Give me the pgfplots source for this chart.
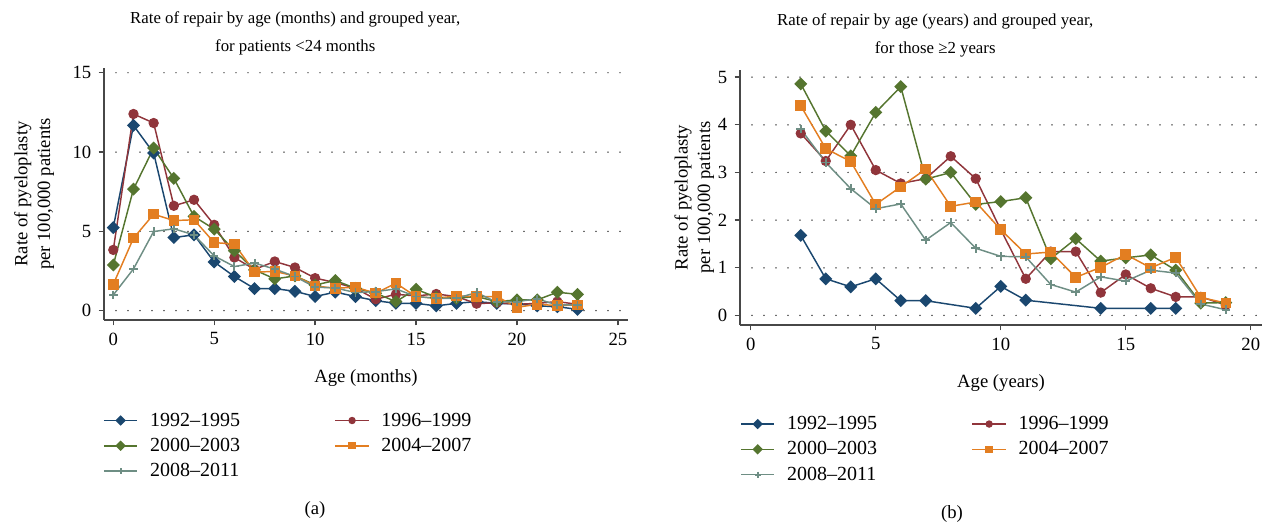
\documentclass[border=0pt]{standalone}
\usepackage{fontspec}
\setmainfont{Liberation Serif}
\usepackage{pgfplots}
\pgfplotsset{compat=1.18}
\definecolor{cnavy}{RGB}{26,71,111}
\definecolor{cmaroon}{RGB}{144,53,59}
\definecolor{cgreen}{RGB}{85,117,47}
\definecolor{corange}{RGB}{227,126,33}
\definecolor{cteal}{RGB}{110,142,132}
\pgfplotsset{
  stata/.style={
    scale only axis,
    axis x line*=bottom, axis y line*=left,
    axis line style={draw=black!72, line width=1.3pt},
    tick align=outside, major tick length=4pt,
    tick style={black!72, line width=1pt},
    ymajorgrids,
    major grid style={black, line width=1.1pt, line cap=round, dash pattern=on 0pt off 9pt},
    /pgf/number format/assume math mode=true,
    tick label style={font=\fontsize{14}{16}\selectfont},
    xticklabel style={yshift=-2pt},
    yticklabel style={xshift=-2pt},
    label style={font=\fontsize{14}{17}\selectfont},
    xlabel style={yshift=-11pt},
    ylabel style={align=center},
    title style={font=\fontsize{12.6}{20.5}\selectfont, align=center, anchor=center},
    legend columns=2,
    legend cell align=left,
    legend style={draw=none, fill=none, inner sep=0pt, anchor=north west,
      font=\fontsize{15}{17}\selectfont, row sep=3.5pt,
      /tikz/column 1/.style={column sep=7pt},
      /tikz/column 2/.style={column sep=69pt},
      /tikz/column 3/.style={column sep=7pt}},
    every axis plot/.append style={line width=1.1pt,
      legend image code/.code={\draw[mark repeat=2,mark phase=2,##1, mark size=2.2pt] plot coordinates {(0pt,0pt) (12.5pt,0pt) (25pt,0pt)};}},
  },
  sA/.style={color=cnavy, mark=square*, mark size=2.9pt, mark options={rotate=45, solid}},
  sB/.style={color=cmaroon, mark=*, mark size=3.3pt},
  sC/.style={color=cgreen, mark=square*, mark size=2.9pt, mark options={rotate=45, solid}},
  sD/.style={color=corange, mark=square*, mark size=3.4pt},
  sE/.style={color=cteal, mark=+, mark size=3.2pt, mark options={line width=1.4pt}},
}
\begin{document}
\begin{tikzpicture}
\useasboundingbox (0,0) rectangle (952.5pt,396.75pt);
% ---------- (a) ----------
\begin{axis}[stata,
  at={(78pt,156.75pt)}, anchor=south west,
  width=393pt, height=189pt,
  xmin=-0.46, xmax=25.5, ymin=-0.59, ymax=15.3,
  xtick={0,5,...,25}, ytick={0,5,10,15},
  xlabel={Age (months)},
  ylabel={Rate of pyeloplasty\\per 100,000 patients},
  ylabel shift=7pt,
  title={Rate of repair by age (months) and grouped year,\\for patients <24 months},
  title style={at={(0.365,1.106)}},
  legend style={at={(-0.002,-0.357)}},
]
\addplot[sA] coordinates {(0,5.24)(1,11.68)(2,9.94)(3,4.61)(4,4.78)(5,3.07)(6,2.15)(7,1.39)(8,1.39)(9,1.22)(10,0.89)(11,1.17)(12,0.89)(13,0.63)(14,0.46)(15,0.46)(16,0.30)(17,0.46)(18,0.57)(19,0.46)(20,0.42)(21,0.30)(22,0.25)(23,0.08)};
\addlegendentry{1992--1995}
\addplot[sB] coordinates {(0,3.83)(1,12.4)(2,11.83)(3,6.61)(4,6.99)(5,5.41)(6,3.35)(7,2.6)(8,3.10)(9,2.72)(10,2.05)(11,1.77)(12,1.41)(13,0.72)(14,1.03)(15,0.93)(16,1.05)(17,0.89)(18,0.44)(19,0.5)(20,0.4)(21,0.46)(22,0.57)(23,0.4)};
\addlegendentry{1996--1999}
\addplot[sC] coordinates {(0,2.88)(1,7.66)(2,10.25)(3,8.34)(4,5.94)(5,5.14)(6,3.78)(7,2.57)(8,2.0)(9,2.19)(10,1.62)(11,1.9)(12,1.41)(13,1.1)(14,0.57)(15,1.35)(16,0.84)(17,0.78)(18,0.89)(19,0.57)(20,0.68)(21,0.68)(22,1.16)(23,1.03)};
\addlegendentry{2000--2003}
\addplot[sD] coordinates {(0,1.66)(1,4.57)(2,6.08)(3,5.68)(4,5.73)(5,4.29)(6,4.2)(7,2.43)(8,2.47)(9,2.19)(10,1.56)(11,1.41)(12,1.48)(13,1.1)(14,1.73)(15,0.89)(16,0.78)(17,0.93)(18,0.89)(19,0.89)(20,0.21)(21,0.4)(22,0.32)(23,0.36)};
\addlegendentry{2004--2007}
\addplot[sE] coordinates {(0,0.99)(1,2.63)(2,4.99)(3,5.16)(4,4.78)(5,3.45)(6,2.78)(7,3.0)(8,2.62)(9,2.15)(10,1.48)(11,1.43)(12,1.14)(13,1.2)(14,1.37)(15,0.89)(16,0.78)(17,0.78)(18,1.14)(19,0.53)(20,0.57)(21,0.74)(22,0.36)(23,0.36)};
\addlegendentry{2008--2011}
\end{axis}
% ---------- (b) ----------
\begin{axis}[stata,
  at={(555pt,153pt)}, anchor=south west,
  width=391.5pt, height=191.25pt,
  xmin=-0.43, xmax=20.45, ymin=-0.2, ymax=5.15,
  xtick={0,5,...,20}, ytick={0,1,...,5},
  xlabel={Age (years)},
  ylabel={Rate of pyeloplasty\\per 100,000 patients},
  ylabel shift=-4pt,
  title={Rate of repair by age (years) and grouped year,\\for those ≥2 years},
  title style={at={(0.374,1.104)}},
  legend style={at={(0.0,-0.347)}},
]
\addplot[sA] coordinates {(2,1.68)(3,0.77)(4,0.60)(5,0.77)(6,0.31)(7,0.31)(9,0.15)(10,0.61)(11,0.32)(14,0.15)(16,0.15)(17,0.15)};
\addlegendentry{1992--1995}
\addplot[sB] coordinates {(2,3.82)(3,3.24)(4,4.0)(5,3.05)(6,2.77)(7,2.87)(8,3.34)(9,2.87)(10,1.8)(11,0.77)(12,1.34)(13,1.34)(14,0.48)(15,0.86)(16,0.57)(17,0.39)(18,0.39)(19,0.22)};
\addlegendentry{1996--1999}
\addplot[sC] coordinates {(2,4.86)(3,3.87)(4,3.35)(5,4.26)(6,4.80)(7,2.86)(8,3.0)(9,2.33)(10,2.39)(11,2.47)(12,1.19)(13,1.61)(14,1.14)(15,1.21)(16,1.27)(17,0.95)(18,0.26)(19,0.27)};
\addlegendentry{2000--2003}
\addplot[sD] coordinates {(2,4.40)(3,3.50)(4,3.23)(5,2.33)(6,2.70)(7,3.07)(8,2.29)(9,2.38)(10,1.80)(11,1.29)(12,1.33)(13,0.80)(14,1.01)(15,1.28)(16,1.0)(17,1.22)(18,0.38)(19,0.26)};
\addlegendentry{2004--2007}
\addplot[sE] coordinates {(2,3.91)(3,3.21)(4,2.66)(5,2.24)(6,2.34)(7,1.58)(8,1.95)(9,1.41)(10,1.24)(11,1.23)(12,0.65)(13,0.49)(14,0.81)(15,0.72)(16,0.95)(17,0.89)(18,0.24)(19,0.12)};
\addlegendentry{2008--2011}
\end{axis}
\node[font=\fontsize{14}{16}\selectfont] at (236.25pt,14.25pt) {(a)};
\node[font=\fontsize{14}{16}\selectfont] at (714pt,11.25pt) {(b)};
\end{tikzpicture}
\end{document}
